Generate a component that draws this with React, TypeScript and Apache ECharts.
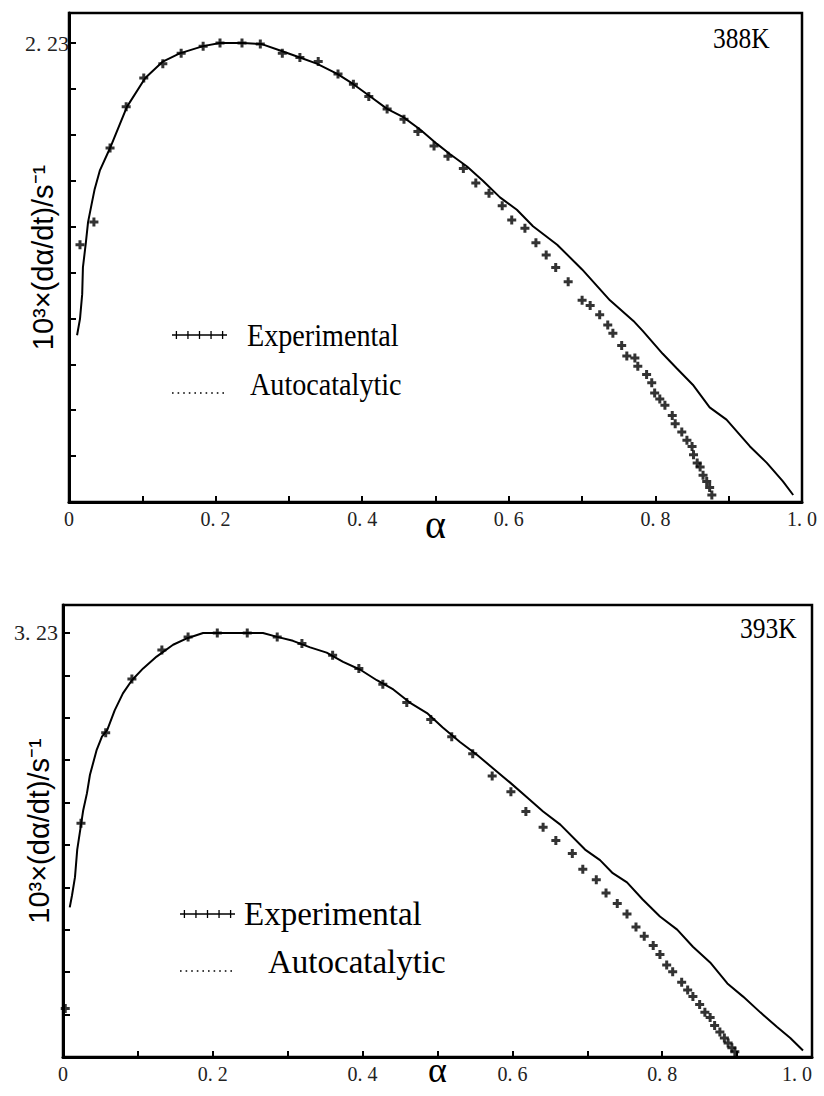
import React, { useEffect, useRef } from "react";
import * as echarts from "echarts";

// 388 K: conversion α and rate 10³·dα/dt (s⁻¹)
const ALPHA_388_MODEL = [0.011, 0.015, 0.018, 0.019, 0.023, 0.026, 0.031, 0.035, 0.042, 0.056, 0.079, 0.104, 0.128, 0.151, 0.183, 0.206, 0.237, 0.263, 0.291, 0.315, 0.338, 0.366, 0.388, 0.411, 0.434, 0.456, 0.479, 0.502, 0.520, 0.543, 0.565, 0.588, 0.611, 0.633, 0.666, 0.700, 0.738, 0.770, 0.783, 0.810, 0.829, 0.851, 0.874, 0.897, 0.929, 0.952, 0.974, 0.988];
const RATE_388_MODEL = [0.81, 0.89, 1.01, 1.14, 1.26, 1.36, 1.45, 1.52, 1.61, 1.72, 1.92, 2.06, 2.14, 2.18, 2.215, 2.23, 2.23, 2.225, 2.19, 2.16, 2.13, 2.08, 2.03, 1.97, 1.91, 1.87, 1.81, 1.74, 1.69, 1.63, 1.56, 1.48, 1.42, 1.34, 1.25, 1.13, 0.98, 0.88, 0.83, 0.72, 0.65, 0.57, 0.46, 0.40, 0.27, 0.19, 0.10, 0.034];
const ALPHA_388_EXP = [0.015, 0.034, 0.056, 0.078, 0.102, 0.128, 0.153, 0.183, 0.206, 0.236, 0.261, 0.291, 0.315, 0.340, 0.367, 0.388, 0.409, 0.434, 0.457, 0.476, 0.498, 0.517, 0.538, 0.555, 0.573, 0.591, 0.604, 0.622, 0.637, 0.651, 0.664, 0.681, 0.700, 0.711, 0.724, 0.735, 0.742, 0.754, 0.761, 0.772, 0.776, 0.788, 0.795, 0.799, 0.806, 0.813, 0.823, 0.827, 0.836, 0.843, 0.850, 0.852, 0.857, 0.861, 0.865, 0.870, 0.874, 0.877];
const RATE_388_EXP = [1.25, 1.36, 1.72, 1.92, 2.06, 2.13, 2.18, 2.215, 2.23, 2.23, 2.225, 2.18, 2.16, 2.14, 2.08, 2.03, 1.97, 1.91, 1.86, 1.80, 1.73, 1.68, 1.62, 1.55, 1.50, 1.44, 1.37, 1.33, 1.26, 1.20, 1.14, 1.07, 0.98, 0.955, 0.91, 0.86, 0.82, 0.76, 0.71, 0.70, 0.66, 0.62, 0.58, 0.53, 0.50, 0.47, 0.42, 0.38, 0.34, 0.30, 0.27, 0.23, 0.19, 0.17, 0.13, 0.10, 0.07, 0.034];

// 393 K
const ALPHA_393_MODEL = [0.009, 0.012, 0.016, 0.019, 0.023, 0.027, 0.032, 0.036, 0.045, 0.052, 0.059, 0.069, 0.080, 0.092, 0.107, 0.125, 0.147, 0.166, 0.187, 0.246, 0.267, 0.286, 0.307, 0.330, 0.352, 0.374, 0.397, 0.419, 0.441, 0.463, 0.486, 0.507, 0.530, 0.553, 0.574, 0.597, 0.619, 0.641, 0.664, 0.697, 0.717, 0.734, 0.753, 0.774, 0.797, 0.820, 0.841, 0.864, 0.887, 0.908, 0.931, 0.953, 0.971, 0.988];
const RATE_393_MODEL = [1.14, 1.23, 1.37, 1.58, 1.73, 1.88, 2.01, 2.15, 2.34, 2.44, 2.49, 2.64, 2.77, 2.87, 2.96, 3.05, 3.14, 3.19, 3.23, 3.23, 3.23, 3.20, 3.17, 3.12, 3.08, 3.01, 2.95, 2.87, 2.80, 2.70, 2.62, 2.51, 2.40, 2.30, 2.20, 2.09, 1.98, 1.87, 1.77, 1.58, 1.50, 1.40, 1.33, 1.20, 1.07, 0.97, 0.84, 0.72, 0.56, 0.46, 0.34, 0.23, 0.145, 0.05];
const ALPHA_393_EXP = [0.003, 0.024, 0.057, 0.092, 0.132, 0.167, 0.206, 0.246, 0.286, 0.319, 0.360, 0.395, 0.427, 0.459, 0.491, 0.519, 0.547, 0.573, 0.598, 0.618, 0.641, 0.658, 0.680, 0.694, 0.712, 0.725, 0.740, 0.753, 0.765, 0.776, 0.788, 0.797, 0.806, 0.814, 0.826, 0.834, 0.841, 0.850, 0.857, 0.864, 0.870, 0.877, 0.883, 0.888, 0.893, 0.897];
const RATE_393_EXP = [0.37, 1.78, 2.47, 2.88, 3.10, 3.20, 3.23, 3.23, 3.20, 3.15, 3.06, 2.96, 2.84, 2.70, 2.57, 2.44, 2.31, 2.14, 2.02, 1.87, 1.75, 1.65, 1.55, 1.43, 1.35, 1.25, 1.17, 1.09, 0.99, 0.92, 0.85, 0.78, 0.70, 0.65, 0.57, 0.51, 0.46, 0.40, 0.34, 0.30, 0.24, 0.19, 0.145, 0.107, 0.07, 0.04];

// Axis scales: one labelled tick at the peak rate, ten equal steps below it
const PEAK_388 = 2.23;
const PEAK_393 = 3.23;
const YMAX_388 = 2.376;
const YMAX_393 = 3.443;
const X_TICK_LABELS = ["0", "0. 2", "0. 4", "0. 6", "0. 8", "1. 0"];

const TEMP_LABELS = ["388K", "393K"];
const LEGEND_NAMES = ["Experimental", "Autocatalytic"];
const Y_TITLE = "10³×(dα/dt)/s⁻¹";
const X_TITLE = "α";

const PLUS = "path://M3,0H6V3H9V6H6V9H3V6H0V3H3Z";
const SERIF = "'Liberation Serif', 'Times New Roman', serif";
const SANS = "'Liberation Sans', Arial, sans-serif";

const zip = (a: number[], b: number[]) => a.map((v, i) => [v, b[i]]);

function xAxisFor(gridIndex: number, nameGap: number, nameSize: number, lastAlign: string) {
  return {
    type: "value",
    gridIndex,
    min: 0,
    max: 1,
    interval: 0.1,
    name: X_TITLE,
    nameLocation: "middle",
    nameGap,
    nameMoveOverlap: false,
    nameTextStyle: { fontFamily: SERIF, fontSize: nameSize, lineHeight: nameSize * 0.8, color: "#000" },
    axisLine: { show: true, onZero: false, lineStyle: { color: "#000", width: 3 } },
    axisTick: { show: true, inside: true, length: 6, lineStyle: { color: "#000", width: 2 } },
    axisLabel: {
      show: true,
      margin: 7,
      showMinLabel: true,
      showMaxLabel: true,
      alignMaxLabel: lastAlign,
      fontFamily: SERIF,
      fontSize: 20,
      color: "#222",
      formatter: (v: number) => {
        const k = Math.round(v * 10);
        if (k % 2 !== 0) return "";
        return X_TICK_LABELS[k / 2] ?? "";
      },
    },
    splitLine: { show: false },
  };
}

function yAxisFor(gridIndex: number, peak: number, max: number, labelMargin: number, nameGap: number) {
  return {
    type: "value",
    gridIndex,
    min: 0,
    max,
    interval: peak / 10,
    name: Y_TITLE,
    nameLocation: "middle",
    nameGap,
    nameMoveOverlap: false,
    nameRotate: 90,
    nameTextStyle: { fontFamily: SANS, fontSize: 29, color: "#000" },
    axisLine: { show: true, onZero: false, lineStyle: { color: "#000", width: 3 } },
    axisTick: { show: true, inside: true, length: 7, lineStyle: { color: "#000", width: 2 } },
    axisLabel: {
      show: true,
      margin: labelMargin,
      showMinLabel: true,
      showMaxLabel: true,
      fontFamily: SERIF,
      fontSize: 22,
      color: "#222",
      formatter: (v: number) => (Math.abs(v - peak) < 1e-6 ? peak.toFixed(2).replace(".", ". ") : ""),
    },
    splitLine: { show: false },
  };
}

function legendBlock(
  x0: number,
  yExp: number,
  yAuto: number,
  textXExp: number,
  textXAuto: number,
  fontSize: number,
  scaleX: number
) {
  const span = 55;
  const ticks = [0.08, 0.29, 0.5, 0.71, 0.92].map((f) => ({
    type: "line",
    shape: { x1: x0 + f * span, y1: yExp - 4, x2: x0 + f * span, y2: yExp + 4 },
    style: { stroke: "#000", lineWidth: 1.3 },
  }));
  return [
    {
      type: "line",
      shape: { x1: x0, y1: yExp, x2: x0 + span, y2: yExp },
      style: { stroke: "#000", lineWidth: 1.3 },
    },
    ...ticks,
    {
      type: "line",
      shape: { x1: x0, y1: yAuto + 9, x2: x0 + span, y2: yAuto + 9 },
      style: { stroke: "#000", lineWidth: 1.6, lineDash: [1.6, 4] },
    },
    {
      type: "text",
      x: textXExp,
      y: yExp,
      scaleX,
      style: { text: LEGEND_NAMES[0], fontFamily: SERIF, fontSize, fill: "#000", align: "left", verticalAlign: "middle" },
    },
    {
      type: "text",
      x: textXAuto,
      y: yAuto,
      scaleX,
      style: { text: LEGEND_NAMES[1], fontFamily: SERIF, fontSize, fill: "#000", align: "left", verticalAlign: "middle" },
    },
  ];
}

export default function App() {
  const ref = useRef<HTMLDivElement>(null);

  useEffect(() => {
    if (!ref.current) return;
    const chart = echarts.init(ref.current, undefined, { renderer: "svg" });

    const gridBase = {
      show: true,
      borderColor: "#000",
      borderWidth: 2.5,
      backgroundColor: "transparent",
      containLabel: false,
      outerBoundsMode: "none",
    };

    const option = {
      animation: false,
      backgroundColor: "#fff",
      grid: [
        { ...gridBase, left: 69, top: 13, width: 733, height: 489 },
        { ...gridBase, left: 63, top: 605, width: 749, height: 452 },
      ],
      xAxis: [xAxisFor(0, 6, 40, "center"), xAxisFor(1, -1, 36, "right")],
      yAxis: [yAxisFor(0, PEAK_388, YMAX_388, 0, 12), yAxisFor(1, PEAK_393, YMAX_393, 5, 10)],
      series: [
        {
          name: "388K model",
          type: "line",
          xAxisIndex: 0,
          yAxisIndex: 0,
          data: zip(ALPHA_388_MODEL, RATE_388_MODEL),
          symbol: "none",
          lineStyle: { color: "#000", width: 2 },
          z: 3,
        },
        {
          name: "388K experimental",
          type: "scatter",
          xAxisIndex: 0,
          yAxisIndex: 0,
          data: zip(ALPHA_388_EXP, RATE_388_EXP),
          symbol: PLUS,
          symbolSize: 9,
          itemStyle: { color: "#000" },
          z: 4,
        },
        {
          name: "393K model",
          type: "line",
          xAxisIndex: 1,
          yAxisIndex: 1,
          data: zip(ALPHA_393_MODEL, RATE_393_MODEL),
          symbol: "none",
          lineStyle: { color: "#000", width: 2 },
          z: 3,
        },
        {
          name: "393K experimental",
          type: "scatter",
          xAxisIndex: 1,
          yAxisIndex: 1,
          data: zip(ALPHA_393_EXP, RATE_393_EXP),
          symbol: PLUS,
          symbolSize: 9,
          itemStyle: { color: "#000" },
          z: 4,
        },
      ],
      graphic: [
        {
          type: "text",
          x: 713,
          y: 38,
          scaleX: 0.85,
          style: { text: TEMP_LABELS[0], fontFamily: SERIF, fontSize: 30, fill: "#000", align: "left", verticalAlign: "middle" },
        },
        {
          type: "text",
          x: 740,
          y: 628,
          scaleX: 0.85,
          style: { text: TEMP_LABELS[1], fontFamily: SERIF, fontSize: 30, fill: "#000", align: "left", verticalAlign: "middle" },
        },
        ...legendBlock(172, 335, 384, 247, 250, 32, 0.88),
        ...legendBlock(180, 914, 962, 244, 268, 33, 1),
      ],
    };

    chart.setOption(option as any);
    return () => chart.dispose();
  }, []);

  return (
    <div
      ref={ref}
      style={{ position: "absolute", left: 0, top: 0, width: 824, height: 1096, background: "#fff" }}
    />
  );
}
